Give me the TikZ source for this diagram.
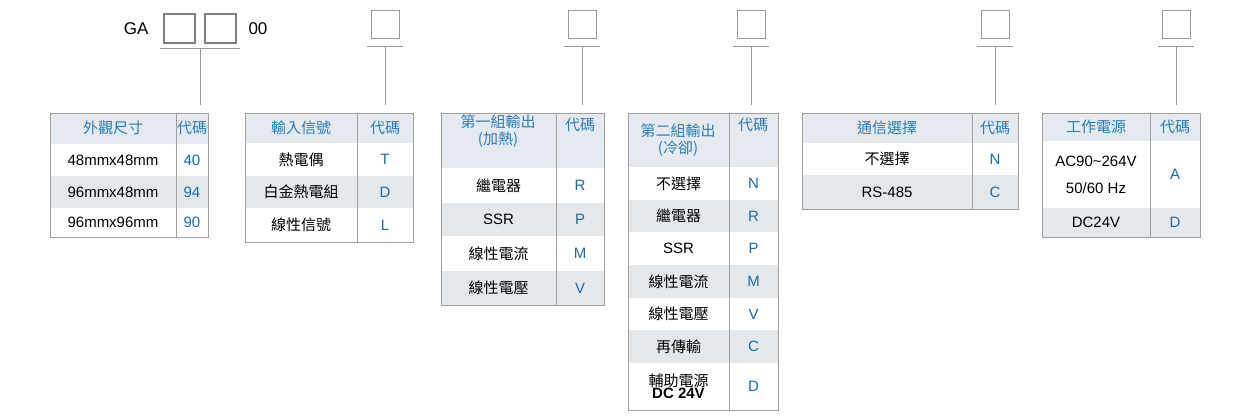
\documentclass[tikz,border=0pt]{standalone}
\usepackage{fontspec}
\setmainfont{Liberation Sans}
\newfontfamily\cjk{Noto Sans CJK TC}
\definecolor{hdrfill}{HTML}{E4EAEF}
\definecolor{rowfill}{HTML}{E5E8EB}
\definecolor{hdrblue}{HTML}{2C7DB9}
\definecolor{codeblue}{HTML}{1C6CA6}
\definecolor{gridgray}{HTML}{A0A0A0}
\tikzset{
  cell/.style={font=\fontsize{15}{17}\selectfont, text=black, inner sep=0pt, align=center},
  code/.style={font=\fontsize{15}{17}\selectfont, text=codeblue, inner sep=0pt},
  head/.style={font=\cjk\fontsize{15}{17}\selectfont, text=hdrblue, inner sep=0pt, align=center},
  grid/.style={draw=gridgray, line width=1pt},
  slot/.style={draw=gray, line width=1.2pt},
  lead/.style={draw=gray!80, line width=1pt},
}
% name, x1, xsplit, x2, y1, y2, fill, text, code
\newcommand\tabrow[9]{%
  \fill[#7] (#2,#5) rectangle (#4,#6);
  \node[cell] (#1-t) at ({(#2+#3)/2},{(#5+#6)/2}) {#8};
  \node[code] (#1-c) at ({(#3+#4)/2},{(#5+#6)/2}) {#9};
  \draw[grid] (#2,#6)--(#4,#6);
}
\newcommand\tabframe[5]{%
  \draw[grid] (#1,#4) rectangle (#3,#5);
  \draw[grid] (#2,#4)--(#2,#5);
}
\begin{document}
\begin{tikzpicture}[x=1pt,y=-1pt]
\useasboundingbox (0,0) rectangle (1248,420);

% code slots
\node[font=\fontsize{17}{19}\selectfont, anchor=east] (ga) at (152,29) {GA};
\draw[slot] (164,14) rectangle (195,43);
\draw[slot] (205,14) rectangle (236,43);
\node[font=\fontsize{17}{19}\selectfont, anchor=west] (zz) at (245,29) {00};
\foreach \cx/\nm in {385/s2, 582/s3, 751/s4, 995/s5, 1176/s6} {
  \draw[slot, draw=gray!80, line width=1pt] (\cx-14,11) rectangle (\cx+14,39);
  \draw[lead] (\cx-18,47)--(\cx+18,47);
  \coordinate (\nm) at (\cx,47);
}
\draw[lead] (160,49)--(240,49);
\coordinate (s1) at (200,49);

% size
\tabrow{a0}{50}{176}{208}{113}{144}{hdrfill}{}{}
\node[head] (a0-h) at (113,128) {外觀尺寸};
\node[head] (a0-k) at (192,128) {代碼};
\tabrow{a1}{50}{176}{208}{144}{176}{white}{48mmx48mm}{40}
\tabrow{a2}{50}{176}{208}{176}{208}{rowfill}{96mmx48mm}{94}
\tabrow{a3}{50}{176}{208}{208}{237}{white}{96mmx96mm}{90}
\tabframe{50}{176}{208}{113}{237}
\draw[lead] (s1)--(200,105);

% input
\tabrow{b0}{245}{357}{413}{113}{143}{hdrfill}{}{}
\node[head] (b0-h) at (301,128) {輸入信號};
\node[head] (b0-k) at (385,128) {代碼};
\tabrow{b1}{245}{357}{413}{143}{176}{white}{\cjk 熱電偶}{T}
\tabrow{b2}{245}{357}{413}{176}{208}{rowfill}{\cjk 白金熱電組}{D}
\tabrow{b3}{245}{357}{413}{208}{242}{white}{\cjk 線性信號}{L}
\tabframe{245}{357}{413}{113}{242}
\draw[lead] (s2)--(385,105);

% output 1
\tabrow{c0}{441}{556}{604}{113}{168}{hdrfill}{}{}
\node[head, text height=11pt] (c0-h) at (498,140) {第一組輸出\\(加熱)};
\node[head] (c0-k) at (580,125) {代碼};
\tabrow{c1}{441}{556}{604}{168}{203}{white}{\cjk 繼電器}{R}
\tabrow{c2}{441}{556}{604}{203}{236}{rowfill}{SSR}{P}
\tabrow{c3}{441}{556}{604}{236}{271}{white}{\cjk 線性電流}{M}
\tabrow{c4}{441}{556}{604}{271}{305}{rowfill}{\cjk 線性電壓}{V}
\tabframe{441}{556}{604}{113}{305}
\draw[lead] (s3)--(582,105);

% output 2
\tabrow{d0}{628}{729}{778}{113}{167}{hdrfill}{}{}
\node[head] (d0-h) at (678,140) {第二組輸出\\(冷卻)};
\node[head] (d0-k) at (753,125) {代碼};
\tabrow{d1}{628}{729}{778}{167}{200}{white}{\cjk 不選擇}{N}
\tabrow{d2}{628}{729}{778}{200}{232}{rowfill}{\cjk 繼電器}{R}
\tabrow{d3}{628}{729}{778}{232}{265}{white}{SSR}{P}
\tabrow{d4}{628}{729}{778}{265}{298}{rowfill}{\cjk 線性電流}{M}
\tabrow{d5}{628}{729}{778}{298}{330}{white}{\cjk 線性電壓}{V}
\tabrow{d6}{628}{729}{778}{330}{363}{rowfill}{\cjk 再傳輸}{C}
\tabrow{d7}{628}{729}{778}{363}{410}{white}{{\cjk 輔助電源}\\[-5pt]\textbf{DC 24V}}{D}
\tabframe{628}{729}{778}{113}{410}
\draw[lead] (s4)--(751,105);

% communication
\tabrow{e0}{802}{972}{1018}{113}{143}{hdrfill}{}{}
\node[head] (e0-h) at (887,128) {通信選擇};
\node[head] (e0-k) at (995,128) {代碼};
\tabrow{e1}{802}{972}{1018}{143}{175}{white}{\cjk 不選擇}{N}
\tabrow{e2}{802}{972}{1018}{175}{209}{rowfill}{RS-485}{C}
\tabframe{802}{972}{1018}{113}{209}
\draw[lead] (s5)--(995,105);

% power
\tabrow{f0}{1042}{1150}{1200}{113}{141}{hdrfill}{}{}
\node[head] (f0-h) at (1096,127) {工作電源};
\node[head] (f0-k) at (1175,127) {代碼};
\tabrow{f1}{1042}{1150}{1200}{141}{208}{white}{AC90\textasciitilde264V\\[10pt]50/60 Hz}{A}
\tabrow{f2}{1042}{1150}{1200}{208}{237}{rowfill}{DC24V}{D}
\tabframe{1042}{1150}{1200}{113}{237}
\draw[lead] (s6)--(1176,105);
\end{tikzpicture}
\end{document}
